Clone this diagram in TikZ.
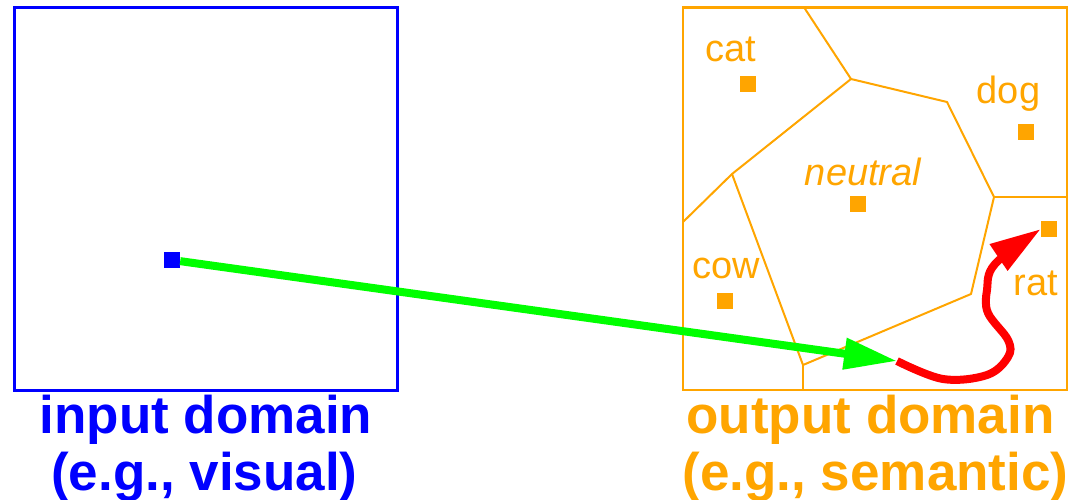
\documentclass[tikz,border=0pt]{standalone}
\usepackage{fontspec}
\setmainfont{Liberation Sans}
\usetikzlibrary{arrows.meta}
\definecolor{myblue}{RGB}{0,0,255}
\definecolor{myorange}{RGB}{255,165,0}
\definecolor{mygreen}{RGB}{0,255,0}
\definecolor{myred}{RGB}{255,0,0}
\begin{document}
\begin{tikzpicture}[x=1pt,y=-1pt,
  lab/.style={text=myorange, font=\fontsize{38}{40}\selectfont, anchor=base, inner sep=0},
  big/.style={font=\fontsize{53}{56}\selectfont\bfseries, anchor=base, inner sep=0},
  dot/.style={minimum size=16pt, inner sep=0, draw=none},
  cell/.style={myorange, line width=2, line join=round},
  mapping/.style={line width=8, line join=round}]
\useasboundingbox (0,0) rectangle (1070,500);
% domain boxes
\draw[myblue, line width=3] (14,7.3) rectangle (397,390);
\draw[myorange, line width=2.5] (683,7.3) rectangle (1067,390);
% voronoi vertices
\coordinate (v1) at (804,7.3);
\coordinate (v2) at (851,79);
\coordinate (v3) at (947,102);
\coordinate (v4) at (994,197);
\coordinate (v5) at (1067,197);
\coordinate (v6) at (971,294);
\coordinate (v7) at (803,365);
\coordinate (v8) at (803,390);
\coordinate (v9) at (732,174);
\coordinate (v10) at (683,222);
\draw[cell] (v1) -- (v2) -- (v3) -- (v4) -- (v6) -- (v7) -- (v9) -- (v2);
\draw[cell] (v4) -- (v5);
\draw[cell] (v7) -- (v8);
\draw[cell] (v9) -- (v10);
% class points
\node[dot, fill=myorange] (cat) at (748,84) {};
\node[dot, fill=myorange] (dog) at (1026,132) {};
\node[dot, fill=myorange] (neu) at (858,204) {};
\node[dot, fill=myorange] (rat) at (1049,229) {};
\node[dot, fill=myorange] (cow) at (725,301) {};
% class labels
\node[lab] (lcat) at (730.5,61.5) {cat};
\node[lab] (ldog) at (1008.5,103) {dog};
\node[lab, font=\fontsize{38}{40}\selectfont\itshape] (lneu) at (863,185) {neutral};
\node[lab] (lcow) at (726,278) {cow};
\node[lab] (lrat) at (1036,295) {rat};
% input point
\node[dot, fill=myblue] (inp) at (172,260) {};
\coordinate (gend) at (897,361);
% mapping arrows
\draw[mapping, mygreen, -{Triangle[length=53pt,width=30pt]}] (inp) -- (gend);
\draw[mapping, myred, -{Triangle[length=51pt,width=30pt]}]
  plot[smooth, tension=0.6] coordinates {(gend) (943,379) (987,375) (1008,357) (1008,340) (988,313) (987,290) (995,264) (rat.west)};
% domain captions
\node[big, text=myblue] (in1) at (206,433) {input domain};
\node[big, text=myblue] (in2) at (204.5,490) {(e.g., visual)};
\node[big, text=myorange] (out1) at (870.5,433) {output domain};
\node[big, text=myorange] (out2) at (875.5,490) {(e.g., semantic)};
\end{tikzpicture}
\end{document}
